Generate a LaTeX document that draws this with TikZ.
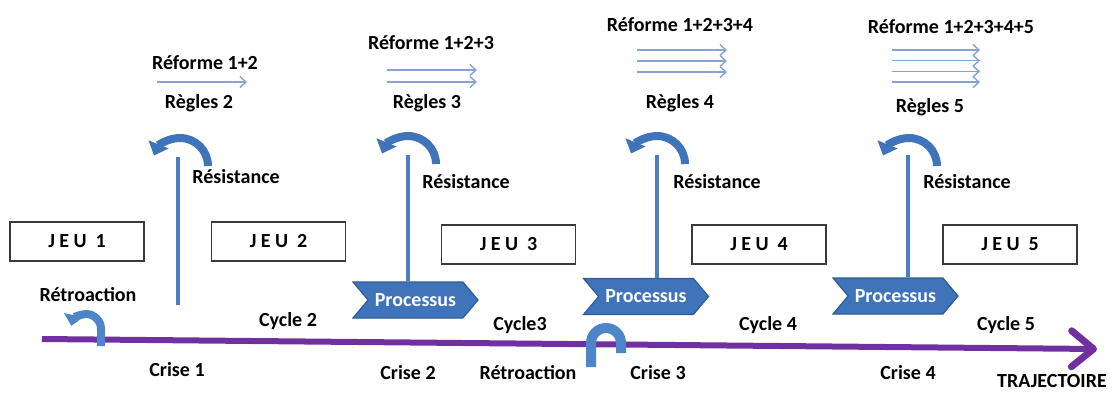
\documentclass[tikz,border=0pt]{standalone}
\usepackage{fontspec}
\setmainfont{Carlito}
\usetikzlibrary{arrows.meta,shapes.symbols,calc}
\definecolor{trajviolet}{HTML}{7030A0}
\definecolor{axisblue}{HTML}{4A7EC2}
\definecolor{blockblue}{HTML}{3F74BA}
\definecolor{blockedge}{HTML}{2D5C96}
\definecolor{loopblue}{HTML}{4D85C8}
\definecolor{reformblue}{HTML}{86A3D6}
\definecolor{boxedge}{HTML}{3A3A3A}
\newcommand{\lblfont}{\fontsize{20}{24}\selectfont\bfseries}
\begin{document}
\begin{tikzpicture}[x=1pt,y=-1pt,
  lbl/.style={font=\lblfont, inner sep=0pt, text=black},
  jeu/.style={draw=boxedge, line width=1.2pt, minimum width=134pt, minimum height=39pt,
    inner sep=0pt, font=\lblfont\addfontfeatures{LetterSpace=22}},
  proc/.style={signal, signal from=west, signal to=east, signal pointer angle=100,
    fill=blockblue, draw=blockedge, line width=1.2pt, minimum width=125pt,
    minimum height=36pt, inner sep=0pt, text=white, font=\lblfont},
  stem/.style={draw=axisblue, line width=3.5pt},
  reform/.style={draw=reformblue, line width=1.4pt, -{Straight Barb[length=6pt,width=11pt]}},
  resist/.style={draw=blockblue, line width=8pt, -{Triangle[length=12pt,width=21pt]}},
  retro/.style={draw=loopblue, line width=8pt, -{Triangle[length=11pt,width=19pt]}},
  hook/.style={draw=loopblue, line width=10pt},
  traj/.style={draw=trajviolet, line width=6pt,
    -{Straight Barb[length=22pt,width=36pt,line width=7pt,round]}},
]
\useasboundingbox (0,0) rectangle (1113,392);

% game boxes
\node[jeu] (j1) at (77,241.5) {JEU 1};
\node[jeu] (j2) at (278.5,241.5) {JEU 2};
\node[jeu] (j3) at (508.5,244.5) {JEU 3};
\node[jeu] (j4) at (759,244.5) {JEU 4};
\node[jeu] (j5) at (1010,244.5) {JEU 5};

% process chevrons
\node[proc] (p1) at (415.5,300) {Processus};
\node[proc] (p2) at (646,296.5) {Processus};
\node[proc] (p3) at (895.5,296) {Processus};

% vertical stems under the resistance arcs
\coordinate (s1) at (178,157);
\coordinate (s1b) at (178,305);
\coordinate (s2) at (408,155);
\coordinate (s3) at (657,155);
\coordinate (s4) at (908,155);
\draw[stem] (s1) -- (s1b);
\draw[stem] (s2) -- (s2 |- p1.north);
\draw[stem] (s3) -- (s3 |- p2.north);
\draw[stem] (s4) -- (s4 |- p3.north);

% resistance arcs
\foreach \cx/\cy in {180/166, 408/164, 657/164, 909/166}
  \draw[resist] (\cx+28,\cy) arc[start angle=0, end angle=-158, radius=28];

% reform arrows
\coordinate (r1) at (157,82);
\coordinate (r2) at (387,70);
\coordinate (r3) at (637,50);
\coordinate (r4) at (892,50);
\draw[reform] (r1) -- ++(90,0);
\foreach \k in {0,1} \draw[reform] ($(r2)+(0,12*\k)$) -- ++(90,0);
\foreach \k in {0,1,2} \draw[reform] ($(r3)+(0,11*\k)$) -- ++(90,0);
\foreach \k in {0,1,2,3} \draw[reform] ($(r4)+(0,10.7*\k)$) -- ++(88,0);

% trajectory
\coordinate (t0) at (42,339);
\coordinate (t1) at (1097,349);
\draw[traj] (t0) -- (t1);

% feedback loops
\draw[retro] (101,346) -- (101,329) arc[start angle=0, end angle=-168, radius=15];
\draw[hook] (591,367) -- (591,343) arc[start angle=180, end angle=360, radius=15] -- (621,353);

% labels
\node[lbl] (f1) at (205,63) {Réforme 1+2};
\node[lbl] (g1) at (199,103) {Règles 2};
\node[lbl] (f2) at (431,43) {Réforme 1+2+3};
\node[lbl] (g2) at (427,103) {Règles 3};
\node[lbl] (f3) at (680,25) {Réforme 1+2+3+4};
\node[lbl] (g3) at (680,103) {Règles 4};
\node[lbl] (f4) at (951,27) {Réforme 1+2+3+4+5};
\node[lbl] (g4) at (930,107) {Règles 5};
\node[lbl] (e1) at (236,177) {Résistance};
\node[lbl] (e2) at (466,182) {Résistance};
\node[lbl] (e3) at (717,182) {Résistance};
\node[lbl] (e4) at (967,182) {Résistance};
\node[lbl] (b1) at (88,295) {Rétroaction};
\node[lbl] (b2) at (528,373) {Rétroaction};
\node[lbl] (c2) at (288,321) {Cycle 2};
\node[lbl] (c3) at (520,325) {Cycle3};
\node[lbl] (c4) at (768,325) {Cycle 4};
\node[lbl] (c5) at (1006,325) {Cycle 5};
\node[lbl] (k1) at (177,370) {Crise 1};
\node[lbl] (k2) at (408,373) {Crise 2};
\node[lbl] (k3) at (658,373) {Crise 3};
\node[lbl] (k4) at (908,373) {Crise 4};
\node[lbl] (tr) at (1052,381) {TRAJECTOIRE};
\end{tikzpicture}
\end{document}
